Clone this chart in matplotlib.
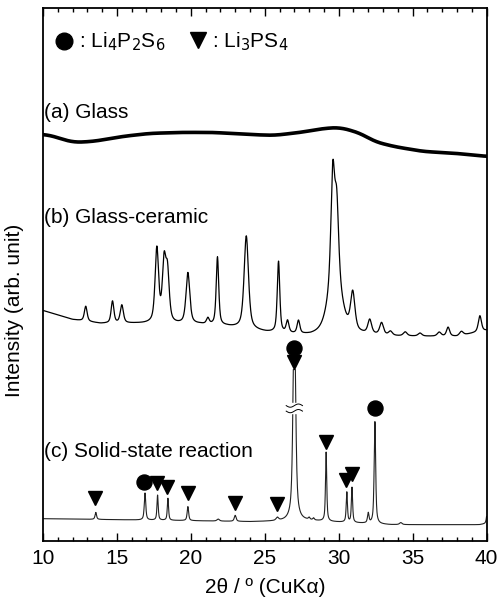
import numpy as np
import matplotlib
matplotlib.use("Agg")
from matplotlib import pyplot as plt
from matplotlib.patches import Rectangle

plt.rcParams['font.family'] = ['Liberation Sans', 'DejaVu Sans']

# (a) glass: broad amorphous halo, (2theta, intensity)
glass_tt = [10, 10.25, 12.05, 13.4, 15.4, 17.2, 19.3, 21.5, 23.8, 25.6, 27.4, 29.0, 30.1, 31.5, 32.4, 33.7, 35.7, 38.0, 40]
glass_int = [406, 406, 398, 399, 404, 407, 408, 408, 406, 405, 408, 412, 413, 407, 399, 394, 389, 387, 384]

# (b) glass-ceramic: background + reflections (2theta, height, fwhm)
gc_bg_tt = [10, 12, 13.9, 16.3, 19.0, 20.6, 22.4, 25.1, 28.1, 31.5, 34, 36, 38, 40]
gc_bg_int = [230, 221, 217, 217, 216, 216, 214, 208, 204, 205, 204, 204, 204, 210]
gc_peak_pos = [12.89, 14.7, 15.33, 17.7, 18.19, 18.42, 19.8, 21.15, 21.8, 23.75, 25.93, 26.54, 27.28,
               29.6, 29.75, 29.87, 30.95, 32.1, 32.9, 33.5, 34.5, 35.5, 36.8, 37.4, 38.3, 39.55]
gc_peak_amp = [15, 22, 18, 74, 58, 48, 51, 6, 68, 93, 71, 12, 13,
               106, 60, 70, 38, 14, 12, 4, 4, 3, 4, 9, 4, 16]
gc_peak_fwhm = [0.22, 0.22, 0.25, 0.28, 0.28, 0.28, 0.3, 0.22, 0.2, 0.35, 0.2, 0.22, 0.22,
                0.3, 1.0, 0.3, 0.35, 0.3, 0.3, 0.3, 0.3, 0.3, 0.3, 0.25, 0.3, 0.25]

# (c) solid-state reaction
ss_bg_tt = [10, 15, 20, 24, 28, 33.5, 39.5, 40]
ss_bg_int = [22, 21, 20, 19, 20, 16, 16, 17]
ss_peak_pos = [13.57, 16.9, 17.75, 18.45, 19.8, 21.85, 23.0, 25.85, 27.0, 28.0, 28.3,
               29.15, 30.55, 30.9, 32.0, 32.45, 34.2, 40.05]
ss_peak_amp = [7, 27, 25, 22, 14, 2, 6, 3, 230, 2, 2,
               69, 30, 35, 10, 102, 2, 12]
ss_peak_fwhm = [0.12, 0.12, 0.1, 0.1, 0.12, 0.2, 0.15, 0.2, 0.2, 0.12, 0.12,
                0.1, 0.1, 0.1, 0.12, 0.12, 0.2, 0.12]
ss_cut = 171  # strongest line is cut at the axis break

# phase markers for (c): 2theta, marker height
li4p2s6_tt = [16.85, 27.0, 32.45]
li4p2s6_y = [59, 193, 133]
li3ps4_tt = [13.55, 17.7, 18.4, 19.8, 23.0, 25.85, 27.0, 29.15, 30.5, 30.9]
li3ps4_y = [43, 58, 54, 48, 38, 37, 179, 99, 61, 67]

tt = np.linspace(10, 40, 3001)


def pseudo_voigt(x, x0, fwhm, eta=0.6):
    d = (x - x0) / fwhm
    return eta / (1 + 4 * d ** 2) + (1 - eta) * np.exp(-4 * np.log(2) * d ** 2)


def pattern(bg_tt, bg_int, pos, amp, fwhm, eta=0.6):
    y = np.interp(tt, bg_tt, bg_int)
    for p, a, w in zip(pos, amp, fwhm):
        y = y + a * pseudo_voigt(tt, p, w, eta)
    return y


def smooth(y, n):
    k = np.ones(n) / n
    ypad = np.concatenate([np.full(n, y[0]), y, np.full(n, y[-1])])
    return np.convolve(ypad, k, mode='same')[n:-n]


fig = plt.figure(figsize=(4.99, 6.07), dpi=100)
ax = fig.add_axes([0.0862, 0.1092, 0.8888, 0.8771])

glass = smooth(np.interp(tt, glass_tt, glass_int), 121)
ax.plot(tt, glass, color='black', lw=2.6)
ax.plot(tt, pattern(gc_bg_tt, gc_bg_int, gc_peak_pos, gc_peak_amp, gc_peak_fwhm),
        color='black', lw=0.9)
ss = pattern(ss_bg_tt, ss_bg_int, ss_peak_pos, ss_peak_amp, ss_peak_fwhm, eta=0.7)
ax.plot(tt, np.minimum(ss, ss_cut), color='#222222', lw=0.8)

ax.plot(li4p2s6_tt, li4p2s6_y, 'o', color='black', ms=10.8, ls='none')
ax.plot(li3ps4_tt, li3ps4_y, 'v', color='black', ms=10, ls='none')

# axis break on the strongest reflection
ax.add_patch(Rectangle((26.6, 128), 0.8, 10, color='white', zorder=3))
s = np.linspace(-0.55, 0.55, 40)
for off in (129.5, 135):
    ax.plot(27.0 + s, off + 1.6 * np.sin(s / 0.55 * np.pi), color='black', lw=0.7, zorder=4)

ax.set_xlim(10, 40)
ax.set_ylim(0, 532)
ax.set_yticks([])
ax.set_xticks(range(10, 41, 5))
ax.set_xticks(range(10, 41), minor=True)
ax.tick_params(axis='x', which='both', direction='in', top=True, labelsize=15, pad=6, width=1)
ax.tick_params(axis='x', which='major', length=6)
ax.tick_params(axis='x', which='minor', length=3)
for sp in ax.spines.values():
    sp.set_linewidth(1.3)

ax.set_xlabel('2θ / º (CuKα)', fontsize=15, labelpad=7)
ax.set_ylabel('Intensity (arb. unit)', fontsize=15)
ax.yaxis.set_label_coords(-0.043, 0.433)

ax.text(10.1, 428, '(a) Glass', fontsize=15, va='center')
ax.text(10.1, 323, '(b) Glass-ceramic', fontsize=15, va='center')
ax.text(10.1, 89, '(c) Solid-state reaction', fontsize=15, va='center')

# phase key
ax.plot([11.45], [499], 'o', color='black', ms=12)
ax.text(12.45, 499, ': Li$_4$P$_2$S$_6$', fontsize=15, va='center')
ax.plot([20.45], [500], 'v', color='black', ms=11.5)
ax.text(21.45, 499, ': Li$_3$PS$_4$', fontsize=15, va='center')

fig.savefig('out.png', dpi=100)
